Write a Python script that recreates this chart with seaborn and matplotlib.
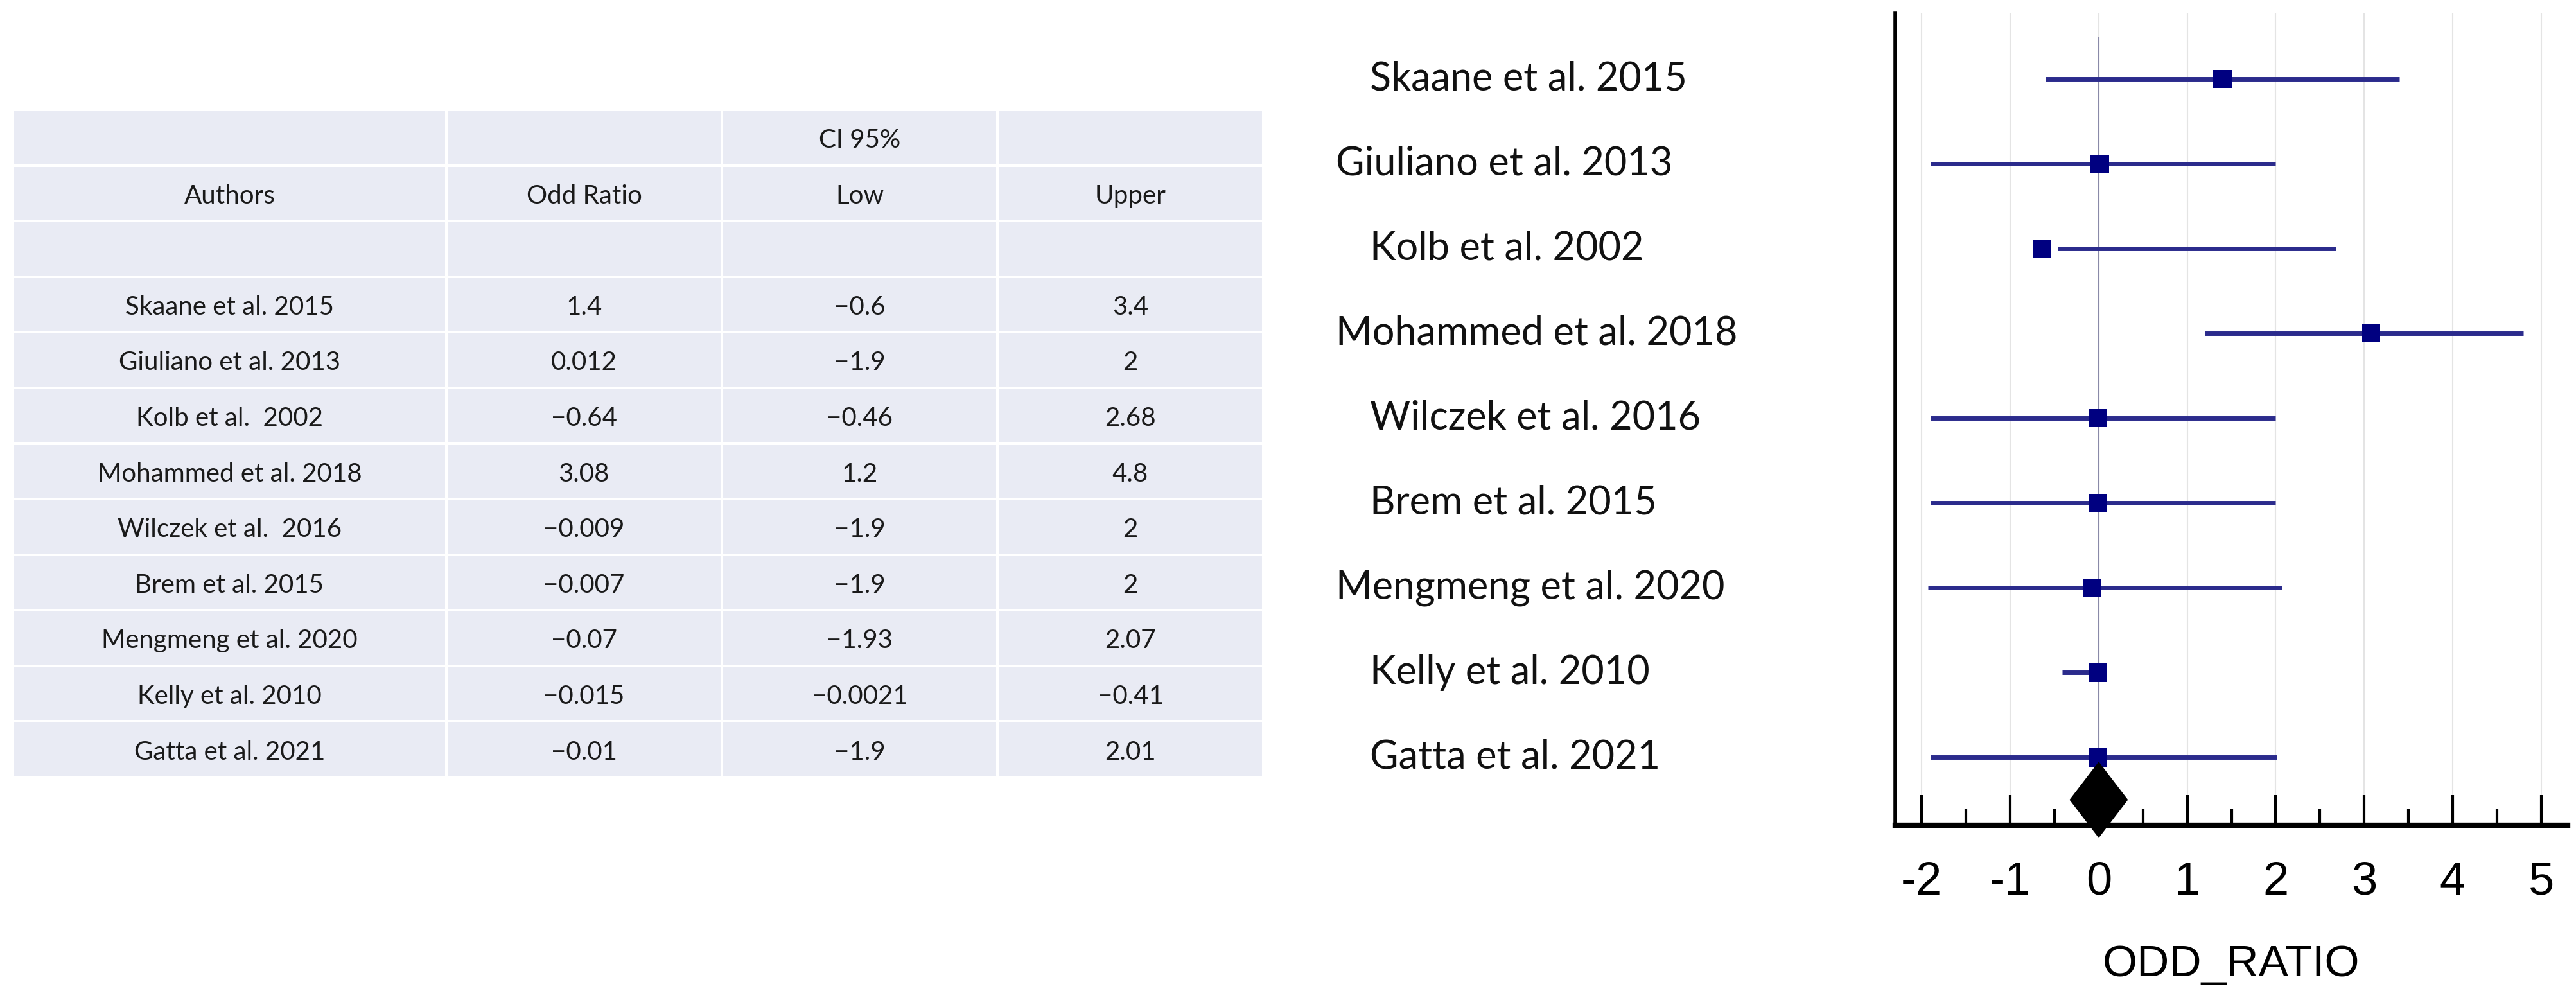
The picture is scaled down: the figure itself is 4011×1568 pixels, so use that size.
import matplotlib
matplotlib.use("Agg")
import matplotlib.pyplot as plt
from matplotlib.patches import Rectangle, Polygon
import pandas as pd
import seaborn as sns

# =============================
#  Data
# =============================
authors = ["Skaane et al. 2015", "Giuliano et al. 2013", "Kolb et al.  2002", "Mohammed et al. 2018",
           "Wilczek et al.  2016", "Brem et al. 2015", "Mengmeng et al. 2020", "Kelly et al. 2010",
           "Gatta et al. 2021"]
plot_labels = ["Skaane et al. 2015", "Giuliano et al. 2013", "Kolb et al. 2002", "Mohammed et al. 2018",
               "Wilczek et al. 2016", "Brem et al. 2015", "Mengmeng et al. 2020", "Kelly et al. 2010",
               "Gatta et al. 2021"]
odd_ratio = [1.4, 0.012, -0.64, 3.08, -0.009, -0.007, -0.07, -0.015, -0.01]
ci_low = [-0.6, -1.9, -0.46, 1.2, -1.9, -1.9, -1.93, -0.0021, -1.9]
ci_upper = [3.4, 2, 2.68, 4.8, 2, 2, 2.07, -0.41, 2.01]
pooled = 0.0
x_ticks = [-2, -1, 0, 1, 2, 3, 4, 5]


def fmt(v):
    s = f"{v:g}"
    return s.replace("-", "\u2212")


df = pd.DataFrame({"study": plot_labels, "or": odd_ratio, "low": ci_low, "up": ci_upper})
df["pos"] = range(len(df))

W, H = 4011, 1568
fig = plt.figure(figsize=(W / 100, H / 100), dpi=100)
plt.rcParams["font.family"] = ["Lato", "DejaVu Sans"]

# =============================
#  Table
# =============================
col_edges = [20, 695, 1124, 1553, 1967]
top, bottom = 171, 1210
n_rows = 12
ax_t = fig.add_axes([0, 0, 1, 1])
ax_t.set_xlim(0, W)
ax_t.set_ylim(H, 0)
ax_t.axis("off")
row_h = (bottom - top) / n_rows
gap = 4
header1 = ["", "", "CI 95%", ""]
header2 = ["Authors", "Odd Ratio", "Low", "Upper"]
rows = [header1, header2, ["", "", "", ""]]
for a, o, l, u in zip(authors, odd_ratio, ci_low, ci_upper):
    rows.append([a, fmt(o), fmt(l), fmt(u)])
for r, row in enumerate(rows):
    y0 = top + r * row_h
    for c in range(4):
        x0, x1 = col_edges[c], col_edges[c + 1]
        ax_t.add_patch(Rectangle((x0 + gap / 2, y0 + gap / 2), x1 - x0 - gap, row_h - gap,
                                 facecolor="#e9ebf4", edgecolor="none"))
        if row[c]:
            ax_t.text((x0 + x1) / 2, y0 + row_h * 0.55, row[c], ha="center", va="center",
                      fontsize=29, color="#1a1a1a")

# =============================
#  Forest plot
# =============================
ax_l, ax_r, ax_top, ax_bot = 2951, 3998, 20, 1285
ax = fig.add_axes([ax_l / W, 1 - ax_bot / H, (ax_r - ax_l) / W, (ax_bot - ax_top) / H])
ax.set_xlim(-2.3, 5.3)
ax.set_ylim(8.8, -0.78)
for t in x_ticks:
    ax.axvline(t, color="#e4e4e4", lw=1.5, zorder=0)
ax.vlines(pooled, -0.5, 8.8, color="#8a8aa8", lw=1.5, zorder=1)
ax.hlines(df["pos"], df[["low", "up"]].min(axis=1), df[["low", "up"]].max(axis=1),
          color="#2b2b8c", lw=5, zorder=2)
sns.scatterplot(data=df, x="or", y="pos", marker="s", s=420, color="#000080",
                edgecolor="none", ax=ax, zorder=3)
ax.add_patch(Polygon([(pooled - 0.33, 8.5), (pooled, 8.05), (pooled + 0.33, 8.5), (pooled, 8.95)],
                     closed=True, facecolor="black", edgecolor="none", zorder=4, clip_on=False))

ax.set_yticks([])
ax.set_ylabel("")
ax.set_xticks(x_ticks)
ax.set_xticks([t + 0.5 for t in x_ticks[:-1]], minor=True)
ax.tick_params(axis="x", which="major", direction="in", length=34, width=3, pad=40,
               labelsize=52)
ax.tick_params(axis="x", which="minor", direction="in", length=18, width=3)
ax.set_xticklabels([str(t) for t in x_ticks])
for lab in ax.get_xticklabels():
    lab.set_family(["Liberation Sans", "DejaVu Sans"])
ax.set_xlabel("ODD_RATIO", fontsize=50, family=["Liberation Sans", "DejaVu Sans"], labelpad=45)
for s in ["top", "right"]:
    ax.spines[s].set_visible(False)
ax.spines["left"].set_linewidth(4)
ax.spines["bottom"].set_linewidth(6)
ax.set_facecolor("white")

# study labels left of the axes
label_x = [2133, 2080, 2133, 2080, 2133, 2133, 2080, 2133, 2133]
for lx, name, p in zip(label_x, df["study"], df["pos"]):
    ax_t.text(lx, ax_top + (p + 0.78) * (ax_bot - ax_top) / 9.58, name, ha="left", va="center",
              fontsize=44, color="#111111")

fig.savefig("out.png", dpi=100)
